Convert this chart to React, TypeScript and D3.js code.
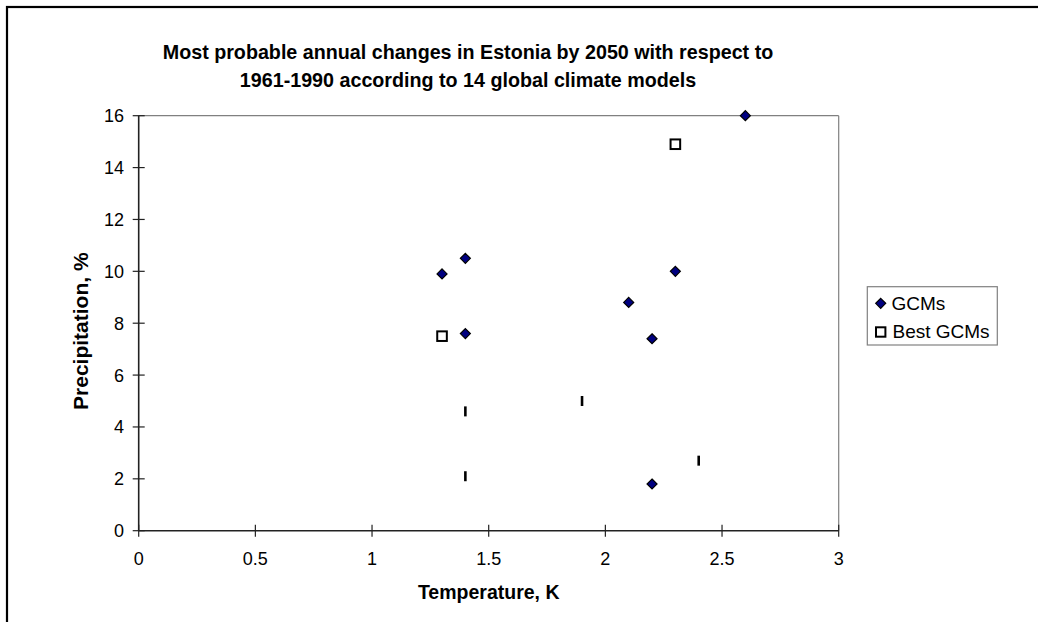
import React from "react";
import * as d3 from "d3";

const titleLines = [
  "Most probable annual changes in Estonia by 2050 with respect to",
  "1961-1990 according to 14 global climate models",
];
const xTicks = [0, 0.5, 1, 1.5, 2, 2.5, 3];
const yTicks = [0, 2, 4, 6, 8, 10, 12, 14, 16];

const gcmTemp = [1.3, 1.4, 1.4, 2.1, 2.3, 2.2, 2.2, 2.6];
const gcmPrecip = [9.9, 10.5, 7.6, 8.8, 10.0, 7.4, 1.8, 16.0];
const bestTemp = [1.3, 2.3];
const bestPrecip = [7.5, 14.9];
const otherTemp = [1.4, 1.4, 1.9, 2.4];
const otherPrecip = [4.6, 2.1, 5.0, 2.7];

const legendItems = ["GCMs", "Best GCMs"];

const FONT = "'Liberation Sans', Arial, Helvetica, sans-serif";

export default function App() {
  const W = 1038;
  const H = 622;
  const left = 138.7;
  const right = 838.7;
  const top = 115.7;
  const bottom = 530.7;

  const x = d3.scaleLinear().domain([0, 3]).range([left, right]);
  const y = d3.scaleLinear().domain([0, 16]).range([bottom, top]);

  const gcms = gcmTemp.map((t, i) => ({ t, p: gcmPrecip[i] }));
  const best = bestTemp.map((t, i) => ({ t, p: bestPrecip[i] }));
  const other = otherTemp.map((t, i) => ({ t, p: otherPrecip[i] }));

  const diamondPath = "M0,-5L5,0L0,5L-5,0Z";

  return (
    <svg
      width={W}
      height={H}
      style={{ position: "absolute", left: 0, top: 0, display: "block", background: "#fff" }}
      fontFamily={FONT}
    >
      {/* outer chart border (extends past the viewport on right and bottom) */}
      <rect x={7} y={7} width={1400} height={1000} fill="#fff" stroke="#000" strokeWidth={2.2} />

      {/* title */}
      <text x={468} y={59} textAnchor="middle" fontSize={19.7} fontWeight="bold" fill="#000">
        {titleLines[0]}
      </text>
      <text x={468} y={87} textAnchor="middle" fontSize={19.7} fontWeight="bold" fill="#000">
        {titleLines[1]}
      </text>

      {/* plot frame (top & right gray) */}
      <line x1={left} x2={right} y1={top} y2={top} stroke="#808080" strokeWidth={1.2} />
      <line x1={right} x2={right} y1={top} y2={bottom} stroke="#808080" strokeWidth={1.2} />

      {/* axes */}
      <line x1={left} x2={left} y1={top} y2={bottom} stroke="#222" strokeWidth={1.6} />
      <line x1={left} x2={right} y1={bottom} y2={bottom} stroke="#222" strokeWidth={1.6} />

      {yTicks.map((v) => (
        <g key={"y" + v}>
          <line x1={left - 6} x2={left + 6} y1={y(v)} y2={y(v)} stroke="#222" strokeWidth={1.2} />
          <text x={124} y={y(v) + 6.5} textAnchor="end" fontSize={18} fill="#000">
            {v}
          </text>
        </g>
      ))}
      {xTicks.map((v) => (
        <g key={"x" + v}>
          <line x1={x(v)} x2={x(v)} y1={bottom - 6} y2={bottom + 6} stroke="#222" strokeWidth={1.2} />
          <text x={x(v)} y={565} textAnchor="middle" fontSize={18} fill="#000">
            {String(v)}
          </text>
        </g>
      ))}

      {/* axis titles */}
      <text x={(left + right) / 2} y={599} textAnchor="middle" fontSize={19.5} fontWeight="bold" fill="#000">
        Temperature, K
      </text>
      <text
        transform={`translate(88, ${(top + bottom) / 2 + 8}) rotate(-90)`}
        textAnchor="middle"
        fontSize={21}
        fontWeight="bold"
        fill="#000"
      >
        Precipitation, %
      </text>

      {/* GCMs */}
      {gcms.map((d, i) => (
        <path
          key={"g" + i}
          d={diamondPath}
          transform={`translate(${x(d.t)},${y(d.p)})`}
          fill="#000080"
          stroke="#000"
          strokeWidth={1.2}
        />
      ))}
      {/* Best GCMs */}
      {best.map((d, i) => (
        <rect
          key={"b" + i}
          x={x(d.t) - 4.8}
          y={y(d.p) - 4.8}
          width={9.6}
          height={9.6}
          fill="#fff"
          stroke="#000"
          strokeWidth={2}
        />
      ))}
      {/* unlabeled series (vertical bars) */}
      {other.map((d, i) => (
        <line
          key={"o" + i}
          x1={x(d.t)}
          x2={x(d.t)}
          y1={y(d.p) - 5}
          y2={y(d.p) + 5}
          stroke="#000"
          strokeWidth={2.6}
        />
      ))}

      {/* legend */}
      <rect x={867.3} y={286.7} width={130} height={58.3} fill="#fff" stroke="#808080" strokeWidth={1.2} />
      <path d={diamondPath} transform="translate(880.7,303.3)" fill="#000080" stroke="#000" strokeWidth={1.2} />
      <text x={891.5} y={309.5} fontSize={19} fill="#000">
        {legendItems[0]}
      </text>
      <rect x={876} y={327.3} width={9.4} height={9.4} fill="#fff" stroke="#000" strokeWidth={2} />
      <text x={892.5} y={337.5} fontSize={19} fill="#000">
        {legendItems[1]}
      </text>
    </svg>
  );
}
